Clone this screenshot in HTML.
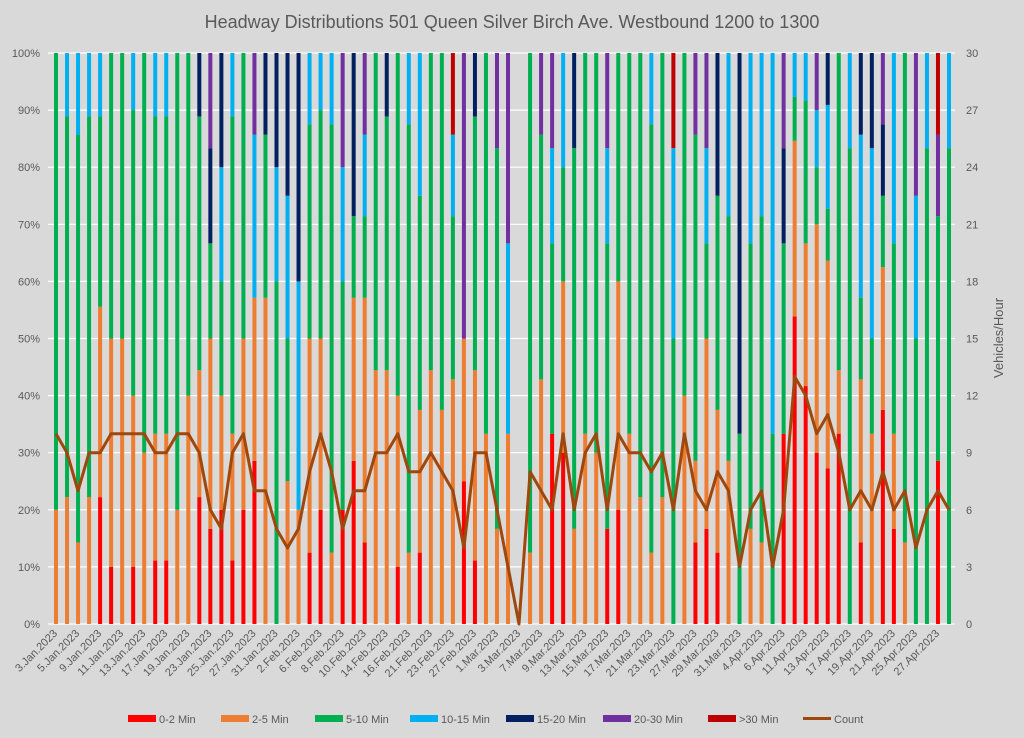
<!DOCTYPE html>
<html><head><meta charset="utf-8">
<style>
html,body{margin:0;padding:0;background:#d9d9d9;}
svg{display:block;font-family:"Liberation Sans",sans-serif;}
</style></head>
<body>
<svg id="chart" width="1024" height="738" viewBox="0 0 1024 738">
<rect x="0" y="0" width="1024" height="738" fill="#d9d9d9"/>
<text x="512" y="28" text-anchor="middle" font-size="18" fill="#595959">Headway Distributions 501 Queen  Silver Birch Ave. Westbound 1200 to 1300</text>
<g id="grid"></g><g id="bars"></g><g id="line"></g><g id="axes"></g><g id="legend"></g>
</svg>
<script>
const dates=["3.Jan.2023","5.Jan.2023","9.Jan.2023","11.Jan.2023","13.Jan.2023","17.Jan.2023","19.Jan.2023","23.Jan.2023","25.Jan.2023","27.Jan.2023","31.Jan.2023","2.Feb.2023","6.Feb.2023","8.Feb.2023","10.Feb.2023","14.Feb.2023","16.Feb.2023","21.Feb.2023","23.Feb.2023","27.Feb.2023","1.Mar.2023","3.Mar.2023","7.Mar.2023","9.Mar.2023","13.Mar.2023","15.Mar.2023","17.Mar.2023","21.Mar.2023","23.Mar.2023","27.Mar.2023","29.Mar.2023","31.Mar.2023","4.Apr.2023","6.Apr.2023","11.Apr.2023","13.Apr.2023","17.Apr.2023","19.Apr.2023","21.Apr.2023","25.Apr.2023","27.Apr.2023"];
const red=[0,0,0,0,2,1,0,1,0,1,1,0,0,2,1,1,1,2,2,0,0,0,0,1,2,0,1,2,1,0,0,1,0,1,0,0,0,1,1,0,0,0,0,0,0,2,3,0,0,0,1,2,0,0,0,0,0,0,1,1,1,0,0,0,0,0,2,7,5,3,3,3,0,1,0,3,1,0,0,0,2,0];
const orange=[2,2,1,2,3,4,5,3,3,2,2,2,4,2,2,1,2,3,2,4,0,1,1,3,3,1,0,2,3,4,4,3,1,2,4,3,3,1,3,3,1,1,0,1,3,0,3,1,3,3,0,4,3,2,1,2,0,4,1,2,2,2,0,1,1,0,0,4,3,4,4,1,0,2,2,2,1,1,0,0,0,0];
const green=[8,6,5,6,3,5,5,5,7,5,5,8,6,4,1,1,5,5,0,2,3,1,0,3,4,6,2,1,1,5,4,6,6,3,5,5,2,0,4,6,4,0,0,7,3,2,2,4,6,7,3,4,6,7,6,7,3,6,4,1,3,3,1,3,4,1,2,1,3,1,1,5,5,1,1,1,2,6,2,5,3,5];
const lightBlue=[0,1,1,1,1,0,0,1,0,1,1,0,0,0,0,1,1,0,2,0,1,1,2,1,1,1,1,0,1,0,0,0,1,2,0,0,1,0,0,0,0,1,0,0,0,1,2,0,0,0,1,0,0,0,1,0,2,0,0,1,0,2,0,2,2,2,0,1,1,1,2,0,1,2,2,0,2,0,1,1,0,1];
const navy=[0,0,0,0,0,0,0,0,0,0,0,0,0,1,1,1,0,0,0,1,1,1,2,0,0,0,0,2,0,0,1,0,0,0,0,0,0,0,1,0,0,0,0,0,0,0,0,1,0,0,0,0,0,0,0,0,0,0,0,0,2,0,2,0,0,0,1,0,0,0,1,0,0,1,1,1,0,0,0,0,0,0];
const purple=[0,0,0,0,0,0,0,0,0,0,0,0,0,0,1,0,0,0,1,0,0,0,0,0,0,0,1,0,1,0,0,0,0,0,0,0,0,2,0,0,1,1,0,0,1,1,0,0,0,0,1,0,0,0,0,0,0,0,1,1,0,0,0,0,0,0,1,0,0,1,0,0,0,0,0,1,0,0,1,0,1,0];
const darkRed=[0,0,0,0,0,0,0,0,0,0,0,0,0,0,0,0,0,0,0,0,0,0,0,0,0,0,0,0,0,0,0,0,0,0,0,0,1,0,0,0,0,0,0,0,0,0,0,0,0,0,0,0,0,0,0,0,1,0,0,0,0,0,0,0,0,0,0,0,0,0,0,0,0,0,0,0,0,0,0,0,1,0];
const pctTicks=["0%","10%","20%","30%","40%","50%","60%","70%","80%","90%","100%"];
const countTicks=[0,3,6,9,12,15,18,21,24,27,30];

const NS="http://www.w3.org/2000/svg";
const X0=56,X1=949,YT=53,YB=624;
const N=red.length;
function xs(i){return X0+i*(X1-X0)/(N-1);}
function yp(p){return YB-(YB-YT)*p/100;}
function yc(c){return YB-(YB-YT)*c/30;}
function mk(tag,attrs,parent){const e=document.createElementNS(NS,tag);for(const k in attrs)e.setAttribute(k,attrs[k]);parent.appendChild(e);return e;}
const grid=document.getElementById('grid'),bars=document.getElementById('bars'),line=document.getElementById('line'),axes=document.getElementById('axes'),legend=document.getElementById('legend');

pctTicks.forEach((t,k)=>{
  const y=yp(k*10);
  const g=mk('line',{x1:48,x2:955,y1:y,y2:y,stroke:'#ffffff','stroke-width':1.2},grid);
  
  
  const tl=mk('text',{x:40,y:y+4,'text-anchor':'end','font-size':11,fill:'#595959'},axes);
  tl.textContent=t;
  
  
});
countTicks.forEach(c=>{
  const tr=mk('text',{x:966,y:yc(c)+4,'text-anchor':'start','font-size':11,fill:'#595959'},axes);
  tr.textContent=c;
  
  
});
const at=mk('text',{x:0,y:0,'text-anchor':'middle','font-size':13,fill:'#595959',transform:'translate(1003,338) rotate(-90)'},axes);
at.textContent='Vehicles/Hour';



const series=[[red,'#ff0000','0-2 Min'],[orange,'#ed7d31','2-5 Min'],[green,'#00b050','5-10 Min'],[lightBlue,'#00b0f0','10-15 Min'],[navy,'#002060','15-20 Min'],[purple,'#7030a0','20-30 Min'],[darkRed,'#c00000','>30 Min']];
const totals=red.map((_,i)=>series.reduce((s,se)=>s+se[0][i],0));
for(let i=0;i<N;i++){
  const tot=totals[i]; if(!tot) continue;
  let cum=0;
  series.forEach(se=>{
    const v=se[0][i]; if(!v) return;
    const p0=cum/tot*100,p1=(cum+v)/tot*100; cum+=v;
    const r=mk('rect',{x:xs(i)-2,y:yp(p1),width:4,height:yp(p0)-yp(p1),fill:se[1]},bars);
    
    
  });
}
const pts=totals.map((c,i)=>xs(i).toFixed(1)+','+yc(c).toFixed(1)).join(' ');
const pl=mk('polyline',{points:pts,fill:'none',stroke:'#9e480e','stroke-width':3,'stroke-linejoin':'round'},line);



dates.forEach((d,k)=>{
  const x=xs(k*2)+2,y=634;
  const t=mk('text',{x:x,y:y,'text-anchor':'end','font-size':11,fill:'#595959',transform:`rotate(-45 ${x} ${y})`},axes);
  t.textContent=d;
  
  
});

const lx=[128,221,315,410,506,603,708];
series.forEach((se,k)=>{
  const sw=mk('rect',{x:lx[k],y:715,width:28,height:7,fill:se[1]},legend);
  
  
  const t=mk('text',{x:lx[k]+31,y:723,'font-size':11,fill:'#595959'},legend);
  t.textContent=se[2];
  
  
});
const cl=mk('line',{x1:803,x2:831,y1:718.5,y2:718.5,stroke:'#9e480e','stroke-width':3},legend);


const ct=mk('text',{x:834,y:723,'font-size':11,fill:'#595959'},legend);
ct.textContent='Count';


</script>
</body></html>
